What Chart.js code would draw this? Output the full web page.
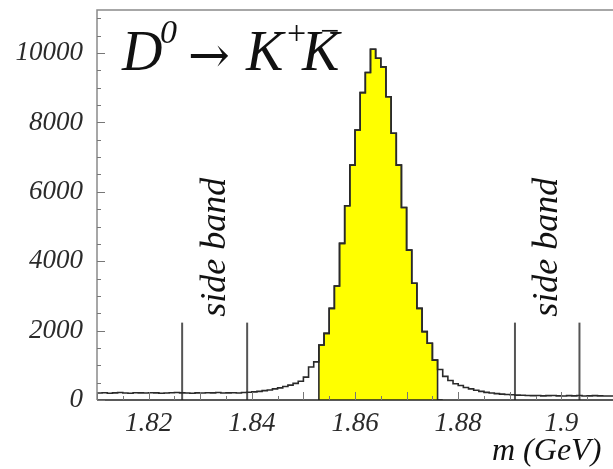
<!DOCTYPE html>
<html>
<head>
<meta charset="utf-8">
<script src="https://cdn.jsdelivr.net/npm/chart.js@4/dist/chart.umd.min.js"></script>
<style>
  html, body { margin: 0; padding: 0; background: #fff; }
  canvas { display: block; }
</style>
</head>
<body>
<canvas id="massChart" width="613" height="469"></canvas>
<script>
// -------------------- DATA --------------------
// invariant mass histogram, 1 MeV bins starting at 1.810 GeV
const BIN_LO = 1.81;
const BIN_WIDTH = 0.001;
const COUNTS = [
  205, 200, 210, 195, 205, 215, 200, 195, 210, 205,
  200, 210, 205, 195, 200, 210, 215, 205, 200, 195,
  205, 200, 210, 205, 215, 200, 205, 210, 200, 215,
  225, 235, 250, 270, 290, 320, 350, 390, 430, 480,
  540, 660, 950,
  1100, 1585, 1920, 2640, 3285, 4515, 5600, 6770, 7780, 8860,
  9440, 10110, 9850, 9600, 8740, 7690, 6770, 5550, 4320, 3365,
  2640, 1970, 1635, 1150,
  880, 680, 560, 470, 420, 360, 320, 280, 250, 220,
  200, 185, 170, 160, 150, 140, 135, 130, 125, 130,
  120, 125, 130, 120, 115, 125, 120, 130, 115, 120,
  125, 120, 115
];

// signal window (filled) and side band edges
const SIGNAL_RANGE = [1.853, 1.877];
const SIDEBAND_EDGES = [1.8265, 1.8391, 1.891, 1.9035];
const SIDEBAND_HEIGHT = 2230;
const SIDEBAND_LABEL = "side band";

// axes
const X_RANGE = [1.81, 1.91];
const Y_RANGE = [0, 11240];
const X_TICKS = [1.82, 1.84, 1.86, 1.88, 1.90];
const X_TICK_LABELS = ["1.82", "1.84", "1.86", "1.88", "1.9"];
const Y_TICKS = [0, 2000, 4000, 6000, 8000, 10000];
const Y_TICK_LABELS = ["0", "2000", "4000", "6000", "8000", "10000"];
const X_TITLE = "m (GeV)";

// -------------------- BUILD POINTS --------------------
const edge = (i) => +(BIN_LO + i * BIN_WIDTH).toFixed(4);

const histPoints = COUNTS.map((c, i) => ({ x: edge(i), y: c }));
histPoints.push({ x: edge(COUNTS.length), y: COUNTS[COUNTS.length - 1] });

const sigFirst = Math.round((SIGNAL_RANGE[0] - BIN_LO) / BIN_WIDTH);
const sigLast = Math.round((SIGNAL_RANGE[1] - BIN_LO) / BIN_WIDTH);
const signalPoints = [{ x: edge(sigFirst), y: 0 }];
for (let i = sigFirst; i < sigLast; i++) {
  signalPoints.push({ x: edge(i), y: COUNTS[i] });
}
signalPoints.push({ x: edge(sigLast), y: 0 });

const sidebandSets = SIDEBAND_EDGES.map((x) => ({
  data: [{ x: x, y: 0 }, { x: x, y: SIDEBAND_HEIGHT }],
  borderColor: "#555",
  borderWidth: 2,
  pointRadius: 0,
  fill: false,
  order: 2
}));

// -------------------- FRAME / LABELS PLUGIN --------------------
const SERIF = '"Liberation Serif", "Times New Roman", serif';

const decor = {
  id: "decor",
  afterDraw(chart) {
    const { ctx, chartArea: a, scales } = chart;
    const xs = scales.x, ys = scales.y;
    ctx.save();

    // frame
    ctx.strokeStyle = "#8a8a8a";
    ctx.lineWidth = 1.5;
    ctx.beginPath();
    ctx.moveTo(a.left, a.bottom);
    ctx.lineTo(a.left, a.top);
    ctx.lineTo(a.right, a.top);
    ctx.stroke();
    ctx.strokeStyle = "#222";
    ctx.beginPath();
    ctx.moveTo(a.left, a.bottom);
    ctx.lineTo(a.right, a.bottom);
    ctx.stroke();

    // inner tick marks
    ctx.strokeStyle = "#777";
    ctx.lineWidth = 1;
    ctx.beginPath();
    for (let v = 0; v <= Y_RANGE[1]; v += 500) {
      const py = Math.round(ys.getPixelForValue(v)) + 0.5;
      const len = v % 2000 === 0 ? 8 : 4;
      ctx.moveTo(a.left, py);
      ctx.lineTo(a.left + len, py);
    }
    for (let k = 0; k <= 20; k++) {
      const v = X_RANGE[0] + k * 0.005;
      const px = Math.round(xs.getPixelForValue(v)) + 0.5;
      const len = k % 2 === 0 ? 8 : 4;
      ctx.moveTo(px, a.bottom);
      ctx.lineTo(px, a.bottom - len);
    }
    ctx.stroke();

    // side band labels
    ctx.fillStyle = "#111";
    ctx.font = "italic 36px " + SERIF;
    ctx.textAlign = "center";
    ctx.textBaseline = "alphabetic";
    for (let b = 0; b < SIDEBAND_EDGES.length; b += 2) {
      const cx = xs.getPixelForValue((SIDEBAND_EDGES[b] + SIDEBAND_EDGES[b + 1]) / 2);
      const cy = ys.getPixelForValue(4400);
      ctx.save();
      ctx.translate(cx + 10, cy);
      ctx.rotate(-Math.PI / 2);
      ctx.fillText(SIDEBAND_LABEL, 0, 0);
      ctx.restore();
    }

    // decay title
    ctx.textAlign = "left";
    ctx.font = "italic 56px " + SERIF;
    ctx.fillText("D", 122, 70);
    ctx.font = "italic 34px " + SERIF;
    ctx.fillText("0", 160, 43);
    ctx.font = '50px "DejaVu Serif"';
    ctx.fillText("\u2192", 188, 72);
    ctx.font = "italic 56px " + SERIF;
    ctx.fillText("K", 246, 70);
    ctx.font = "34px " + SERIF;
    ctx.fillText("+", 287, 44);
    ctx.font = "italic 56px " + SERIF;
    ctx.fillText("K", 302, 70);
    ctx.font = "34px " + SERIF;
    ctx.fillText("\u2212", 320, 42);

    // x axis title
    ctx.font = "italic 32px " + SERIF;
    ctx.fillText(X_TITLE, 492, 460);

    ctx.restore();
  }
};

// -------------------- CHART --------------------
const tickFont = { family: SERIF, size: 27, style: "italic" };

new Chart(document.getElementById("massChart").getContext("2d"), {
  type: "line",
  data: {
    datasets: [
      {
        data: histPoints,
        stepped: "after",
        borderColor: "#2a2a2a",
        borderWidth: 1.6,
        pointRadius: 0,
        fill: false,
        order: 0
      },
      {
        data: signalPoints,
        stepped: "after",
        borderColor: "#2a2a2a",
        borderWidth: 1.6,
        backgroundColor: "#ffff00",
        pointRadius: 0,
        fill: "origin",
        order: 1
      },
      ...sidebandSets
    ]
  },
  options: {
    responsive: false,
    animation: false,
    layout: { padding: { top: 10, right: 0, left: 0, bottom: 0 } },
    plugins: { legend: { display: false }, tooltip: { enabled: false } },
    scales: {
      x: {
        type: "linear",
        min: X_RANGE[0],
        max: X_RANGE[1],
        afterFit: (s) => { s.height = 69; s.paddingLeft = 0; s.paddingRight = 0; },
        afterBuildTicks: (s) => { s.ticks = X_TICKS.map((v) => ({ value: v })); },
        grid: { display: false, drawTicks: false },
        border: { display: false },
        ticks: {
          font: tickFont,
          color: "#2a2a2a",
          padding: 8,
          maxRotation: 0,
          autoSkip: false,
          callback: (v) => X_TICK_LABELS[X_TICKS.findIndex((t) => Math.abs(t - v) < 1e-6)]
        }
      },
      y: {
        min: Y_RANGE[0],
        max: Y_RANGE[1],
        afterFit: (s) => { s.width = 97; s.paddingTop = 0; s.paddingBottom = 0; },
        afterBuildTicks: (s) => { s.ticks = Y_TICKS.map((v) => ({ value: v })); },
        grid: { display: false, drawTicks: false },
        border: { display: false },
        ticks: {
          font: tickFont,
          color: "#2a2a2a",
          padding: 14,
          callback: (v) => Y_TICK_LABELS[Y_TICKS.indexOf(v)]
        }
      }
    }
  },
  plugins: [decor]
});
</script>
</body>
</html>
